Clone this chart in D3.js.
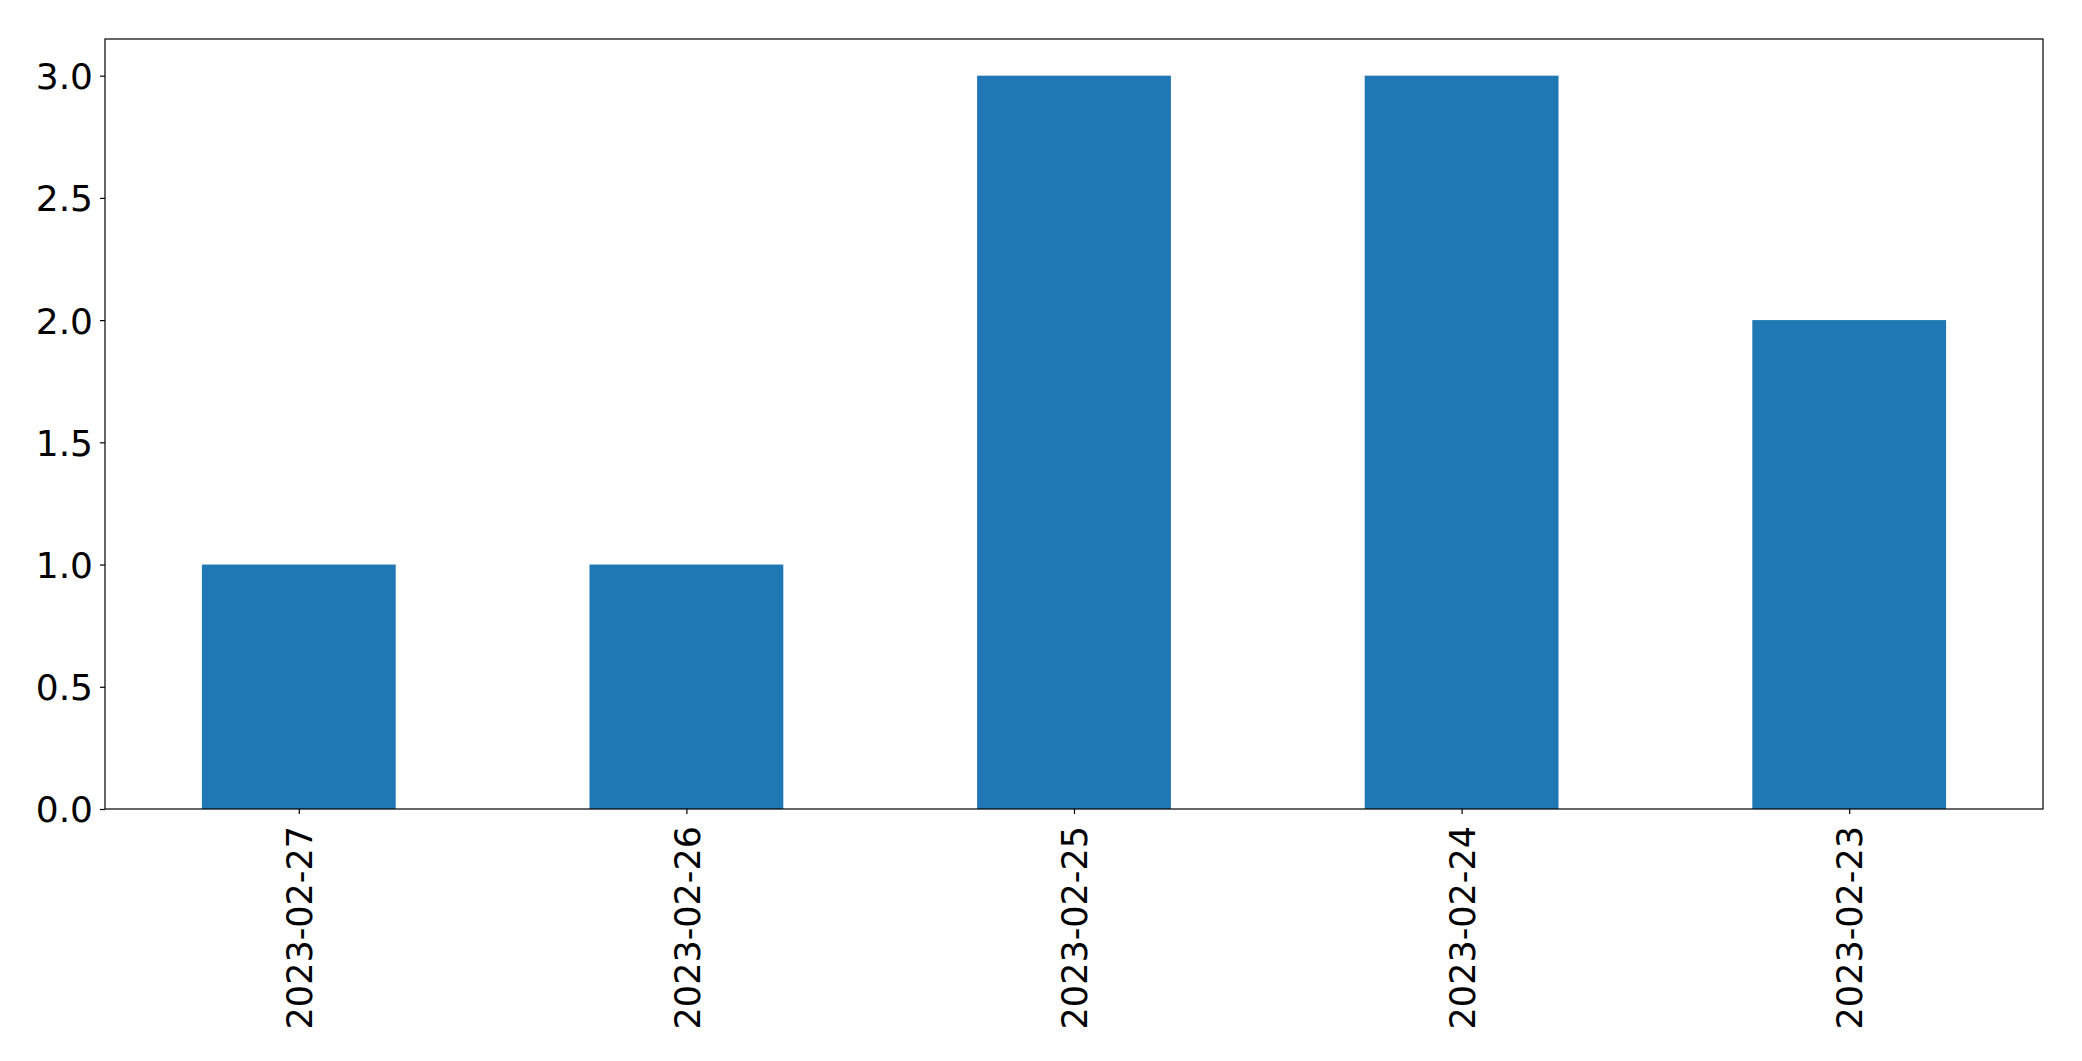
<!DOCTYPE html>
<html>
<head>
<meta charset="utf-8">
<script src="https://cdn.jsdelivr.net/npm/d3@7"></script>
<style>
  html, body { margin: 0; padding: 0; background: #fff; }
  svg { display: block; }
  text { font-family: "DejaVu Sans", sans-serif; fill: #000; }
</style>
</head>
<body>
<svg id="chart" width="2082" height="1061"></svg>
<script>
const categories = ["2023-02-27", "2023-02-26", "2023-02-25", "2023-02-24", "2023-02-23"];
const values = [1, 1, 3, 3, 2];
const yTicks = [0, 0.5, 1.0, 1.5, 2.0, 2.5, 3.0];

const W = 2082, H = 1061;
const margin = { left: 105, right: 2082 - 2043, top: 39, bottom: 1061 - 809 };
const pw = W - margin.left - margin.right;
const ph = H - margin.top - margin.bottom;

const svg = d3.select("#chart");
const g = svg.append("g").attr("transform", `translate(${margin.left},${margin.top})`);

const x = d3.scaleLinear().domain([-0.5, categories.length - 0.5]).range([0, pw]);
const y = d3.scaleLinear().domain([0, 3.15]).range([ph, 0]);
const barW = x(0.25) - x(-0.25);

g.selectAll("rect.bar").data(values).join("rect")
  .attr("class", "bar")
  .attr("x", (d, i) => x(i) - barW / 2)
  .attr("y", d => y(d))
  .attr("width", barW)
  .attr("height", d => y(0) - y(d))
  .attr("fill", "#1f77b4");

// frame
g.append("rect").attr("x", 0).attr("y", 0).attr("width", pw).attr("height", ph)
  .attr("fill", "none").attr("stroke", "#000").attr("stroke-width", 1.2);

// y axis
const yAxis = d3.axisLeft(y).tickValues(yTicks).tickFormat(d3.format(".1f")).tickSize(5).tickPadding(7);
const ya = g.append("g").call(yAxis);
ya.select(".domain").remove();
ya.selectAll("line").attr("stroke", "#000").attr("stroke-width", 1.2);
ya.selectAll("text").style("font-size", "36px").attr("dy", "0.36em");

// x axis
const xAxis = d3.axisBottom(x).tickValues(d3.range(categories.length)).tickFormat(i => categories[i]).tickSize(5).tickPadding(12);
const xa = g.append("g").attr("transform", `translate(0,${ph})`).call(xAxis);
xa.select(".domain").remove();
xa.selectAll("line").attr("stroke", "#000").attr("stroke-width", 1.2);
xa.selectAll("text")
  .style("font-size", "35px")
  .attr("text-anchor", "end")
  .attr("transform", "rotate(-90)")
  .attr("x", -17)
  .attr("y", 0)
  .attr("dy", "0.36em");
</script>
</body>
</html>
